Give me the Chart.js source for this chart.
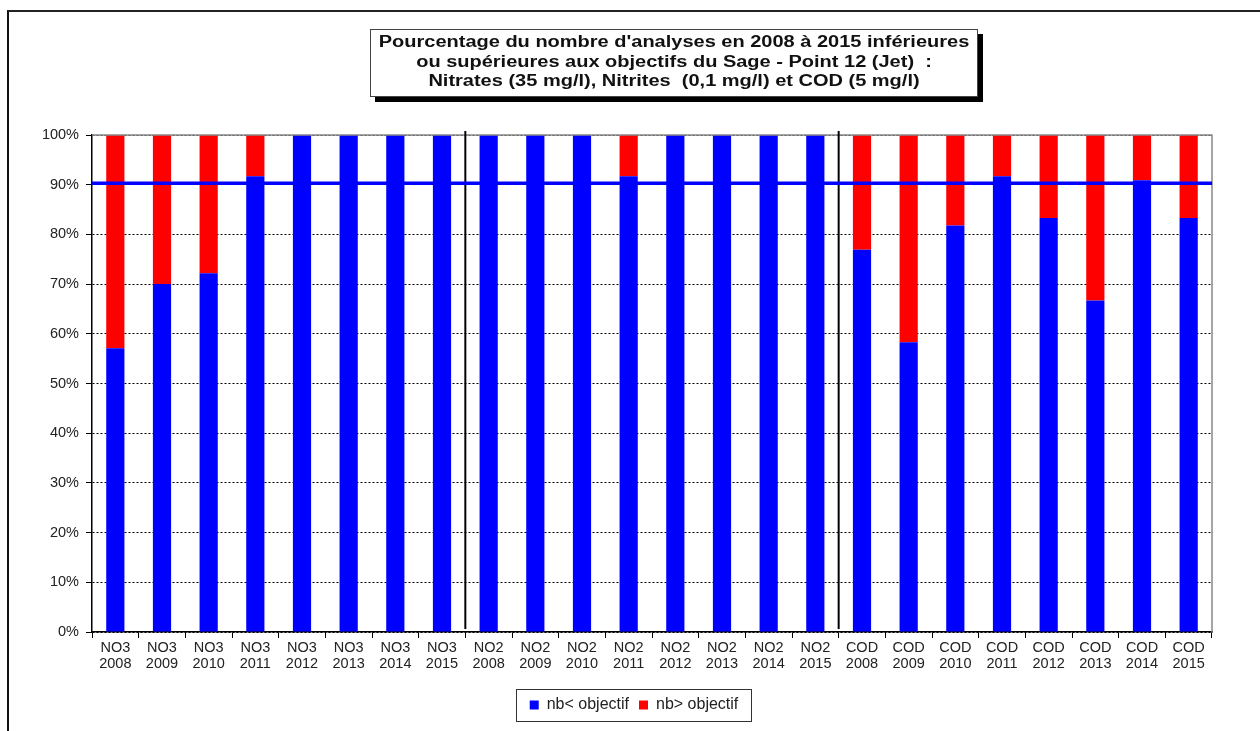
<!DOCTYPE html>
<html>
<head>
<meta charset="utf-8">
<script src="https://cdn.jsdelivr.net/npm/chart.js@4"></script>
<style>
html,body{margin:0;padding:0;background:#fff;width:1260px;height:731px;overflow:hidden;}
#frame{position:absolute;left:7px;top:10px;width:1260px;height:731px;border-left:2px solid #111;border-top:2px solid #222;}
#wrap{position:absolute;left:0;top:0;width:1260px;height:731px;}
#title{position:absolute;left:370px;top:29px;width:606px;height:64px;border:1px solid #444;background:#fff;box-shadow:5px 5px 0 #000;
font-family:"Liberation Sans",Arial,sans-serif;font-weight:bold;font-size:16px;line-height:19.5px;text-align:center;color:#111;padding-top:2px;box-sizing:content-box;}
#title div{transform:scaleX(1.25);transform-origin:50% 50%;white-space:nowrap;}
</style>
</head>
<body>
<div id="frame"></div>
<div id="wrap"><canvas id="c" width="1260" height="731"></canvas></div>
<div id="title"><div>Pourcentage du nombre d'analyses en 2008 à 2015 inférieures</div><div>ou supérieures aux objectifs du Sage - Point 12 (Jet)&nbsp; :</div><div>Nitrates (35 mg/l), Nitrites&nbsp; (0,1 mg/l) et COD (5 mg/l)</div></div>
<script>
const parameters = ['NO3','NO2','COD'];
const years = ['2008','2009','2010','2011','2012','2013','2014','2015'];
const categories = [];
parameters.forEach(p => years.forEach(y => categories.push([p, y])));

const belowObjective = [57.1,70,72.2,91.7,100,100,100,100,
                        100,100,100,91.7,100,100,100,100,
                        76.9,58.3,81.8,91.7,83.3,66.7,90.9,83.3];
const aboveObjective = [42.9,30,27.8,8.3,0,0,0,0,
                        0,0,0,8.3,0,0,0,0,
                        23.1,41.7,18.2,8.3,16.7,33.3,9.1,16.7];
const seriesNames = ['nb< objectif','nb> objectif'];
const seriesColors = ['#0000ff','#ff0000'];
const thresholdValue = 90.3;
const yTicks = [0,10,20,30,40,50,60,70,80,90,100];

const FONT = '"Liberation Sans", Arial, sans-serif';

const overlayPlugin = {
  id: 'overlay',
  afterLayout(chart) {
    const L = chart.legend;
    if (L) {
      const w = L.right - L.left;
      const cx = (chart.chartArea.left + chart.chartArea.right) / 2 - 18;
      L.left = cx - w / 2; L.right = cx + w / 2;
    }
  },
  afterDatasetsDraw(chart) {
    const {ctx, chartArea: a, scales: {x, y}} = chart;
    ctx.save();
    ctx.strokeStyle = '#888'; ctx.lineWidth = 1.5;
    ctx.beginPath();
    ctx.moveTo(a.left, a.top); ctx.lineTo(a.right, a.top); ctx.lineTo(a.right, a.bottom);
    ctx.stroke();
    ctx.strokeStyle = '#000'; ctx.lineWidth = 2;
    for (let g = 1; g < parameters.length; g++) {
      const i = g * years.length;
      const px = (x.getPixelForValue(i - 1) + x.getPixelForValue(i)) / 2;
      ctx.beginPath();
      ctx.moveTo(px, a.top - 4); ctx.lineTo(px, a.bottom - 3);
      ctx.stroke();
    }
    const ty = y.getPixelForValue(thresholdValue);
    ctx.strokeStyle = '#0000ff'; ctx.lineWidth = 3.5;
    ctx.beginPath(); ctx.moveTo(a.left, ty); ctx.lineTo(a.right, ty); ctx.stroke();
    ctx.restore();
  },
  afterDraw(chart) {
    const L = chart.legend;
    if (!L || !L.legendHitBoxes || !L.legendHitBoxes.length) return;
    const hb = L.legendHitBoxes;
    let l = Infinity, r = -Infinity, t = Infinity, b = -Infinity;
    hb.forEach(h => { l = Math.min(l, h.left); r = Math.max(r, h.left + h.width); t = Math.min(t, h.top); b = Math.max(b, h.top + h.height); });
    const ctx = chart.ctx;
    ctx.save();
    ctx.strokeStyle = '#333'; ctx.lineWidth = 1;
    ctx.strokeRect(Math.round(l - 14) + 0.5, Math.round(t - 8) + 0.5, Math.round(r - l + 26), Math.round(b - t + 16));
    ctx.restore();
  }
};

new Chart(document.getElementById('c'), {
  type: 'bar',
  data: {
    labels: categories,
    datasets: [
      {label: seriesNames[0], data: belowObjective, backgroundColor: seriesColors[0], borderWidth: 0, barPercentage: 0.39, categoryPercentage: 1},
      {label: seriesNames[1], data: aboveObjective, backgroundColor: seriesColors[1], borderWidth: 0, barPercentage: 0.39, categoryPercentage: 1}
    ]
  },
  options: {
    responsive: false,
    animation: false,
    layout: {padding: {top: 135, left: 0, right: 48, bottom: 8}},
    plugins: {
      title: {display: false},
      tooltip: {enabled: false},
      legend: {
        position: 'bottom',
        labels: {boxWidth: 9, boxHeight: 9, color: '#222', font: {family: FONT, size: 16}, padding: 10}
      }
    },
    scales: {
      x: {
        stacked: true,
        afterFit(s) { s.height = 55; },
        grid: {display: true, offset: true, drawOnChartArea: false, drawTicks: true, tickLength: 6, color: '#000', lineWidth: 1},
        border: {display: true, color: '#000', width: 1.5},
        ticks: {color: '#222', font: {family: FONT, size: 14.5, lineHeight: 1.1}, maxRotation: 0, autoSkip: false, padding: 2}
      },
      y: {
        stacked: true,
        min: 0, max: 100,
        afterFit(s) { s.width = 92; },
        afterBuildTicks(s) { s.ticks = yTicks.map(v => ({value: v})); },
        grid: {color: '#000', lineWidth: 1, drawTicks: true, tickLength: 6, tickColor: '#000', tickBorderDash: []},
        border: {display: true, color: '#000', width: 1.5, dash: [2, 2]},
        ticks: {color: '#222', font: {family: FONT, size: 14.5}, padding: 7, callback: v => v + '%'}
      }
    }
  },
  plugins: [overlayPlugin]
});
</script>
</body>
</html>
